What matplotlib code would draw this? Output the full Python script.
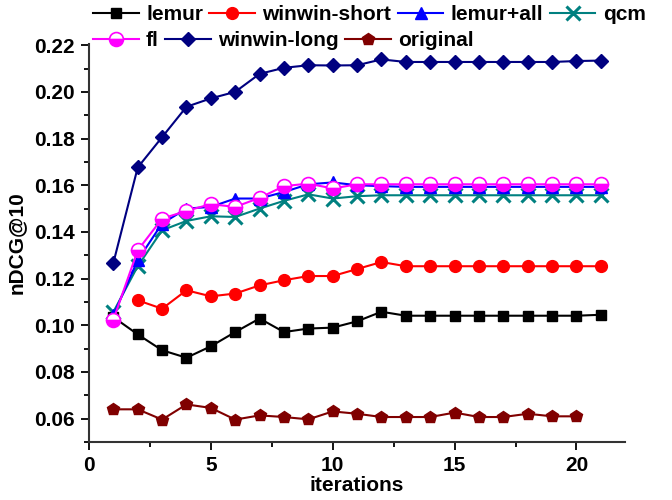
import matplotlib
matplotlib.use("Agg")
import matplotlib.pyplot as plt
from matplotlib.ticker import MultipleLocator, FormatStrFormatter

plt.rcParams["font.family"] = ["Liberation Sans", "DejaVu Sans"]
plt.rcParams["font.weight"] = "bold"

# data
iters = list(range(1, 22))
lemur = [0.1035, 0.0961, 0.0893, 0.0861, 0.0910, 0.0971, 0.1029, 0.0971, 0.0986, 0.0990,
         0.1017, 0.1058, 0.1041, 0.1041, 0.1041, 0.1041, 0.1041, 0.1041, 0.1041, 0.1041, 0.1045]
winwin_short = [0.1107, 0.1071, 0.1150, 0.1124, 0.1136, 0.1171, 0.1193, 0.1211, 0.1211, 0.1241,
                0.1271, 0.1253, 0.1253, 0.1253, 0.1253, 0.1253, 0.1253, 0.1253, 0.1253, 0.1253]
lemur_all = [0.1043, 0.1279, 0.1436, 0.1500, 0.1507, 0.1543, 0.1543, 0.1571, 0.1604, 0.1612,
             0.1600, 0.1596, 0.1593, 0.1593, 0.1593, 0.1593, 0.1593, 0.1593, 0.1593, 0.1593, 0.1593]
qcm = [0.1057, 0.1253, 0.1407, 0.1447, 0.1467, 0.1464, 0.1500, 0.1533, 0.1561, 0.1543,
       0.1553, 0.1557, 0.1557, 0.1557, 0.1557, 0.1557, 0.1557, 0.1557, 0.1557, 0.1557, 0.1557]
fl = [0.1024, 0.1321, 0.1457, 0.1490, 0.1519, 0.1507, 0.1546, 0.1596, 0.1607, 0.1586,
      0.1604, 0.1604, 0.1604, 0.1604, 0.1604, 0.1604, 0.1604, 0.1604, 0.1604, 0.1604, 0.1604]
winwin_long = [0.1267, 0.1676, 0.1806, 0.1936, 0.1972, 0.2000, 0.2077, 0.2103, 0.2114, 0.2113,
               0.2114, 0.2139, 0.2128, 0.2128, 0.2128, 0.2128, 0.2128, 0.2128, 0.2128, 0.2132, 0.2134]
original = [0.0640, 0.0640, 0.0596, 0.0661, 0.0646, 0.0596, 0.0614, 0.0607, 0.0597, 0.0631,
            0.0621, 0.0607, 0.0607, 0.0607, 0.0626, 0.0607, 0.0607, 0.0621, 0.0610, 0.0610]

fig = plt.figure(figsize=(6.72, 5.0), dpi=100)
ax = fig.add_axes([0.1324, 0.116, 0.798, 0.796])

lw = 1.5
h_orig, = ax.plot(iters[:20], original, color="#800000", marker="p", ms=9, lw=lw, label="original")
h_lemur, = ax.plot(iters, lemur, color="black", marker="s", ms=7.5, lw=lw, label="lemur")
h_ws, = ax.plot(iters[1:], winwin_short, color="red", marker="o", ms=8.5, lw=lw, label="winwin-short")
h_qcm, = ax.plot(iters, qcm, color="#008080", marker="x", ms=10, mew=2.2, lw=lw, label="qcm")
h_la, = ax.plot(iters, lemur_all, color="blue", marker="^", ms=8, lw=lw, label="lemur+all")
h_wl, = ax.plot(iters, winwin_long, color="#000080", marker="D", ms=7.5, lw=lw, label="winwin-long")
h_fl, = ax.plot(iters, fl, color="magenta", marker="o", ms=10, lw=lw, fillstyle="bottom",
                markerfacecolor="magenta", markerfacecoloralt="white",
                markeredgecolor="magenta", mew=1.2, label="fl")

ax.set_xlim(0, 22)
ax.set_ylim(0.05, 0.2205)
ax.xaxis.set_major_locator(MultipleLocator(5))
ax.xaxis.set_minor_locator(MultipleLocator(2.5))
ax.yaxis.set_major_locator(MultipleLocator(0.02))
ax.yaxis.set_minor_locator(MultipleLocator(0.01))
ax.yaxis.set_major_formatter(FormatStrFormatter("%.2f"))

for side in ["top", "right"]:
    ax.spines[side].set_visible(False)
for side in ["left", "bottom"]:
    ax.spines[side].set_linewidth(1.5)
    ax.spines[side].set_color("#333333")

ax.tick_params(which="major", direction="out", length=6, width=1.3, labelsize=15, pad=4)
ax.tick_params(which="minor", direction="out", length=3.5, width=1.3)
for lab in ax.get_xticklabels() + ax.get_yticklabels():
    lab.set_fontweight("bold")

ax.set_xlabel("iterations", fontsize=15, fontweight="bold", labelpad=1)
ax.set_ylabel("nDCG@10", fontsize=15, fontweight="bold", labelpad=6)

legend_kw = dict(frameon=False, fontsize=15, handlelength=2.2, handletextpad=0.35,
                 columnspacing=0.3, borderpad=0, borderaxespad=0,
                 bbox_transform=fig.transFigure, loc="center left",
                 prop={"weight": "bold", "size": 15})
leg1 = ax.legend(handles=[h_lemur, h_ws, h_la, h_qcm], ncol=4,
                 bbox_to_anchor=(93 / 672, 1 - 15 / 500), **legend_kw)
ax.add_artist(leg1)
ax.legend(handles=[h_fl, h_wl, h_orig], ncol=3,
          bbox_to_anchor=(93 / 672, 1 - 41 / 500), **legend_kw)

fig.savefig("out.png", dpi=100)
